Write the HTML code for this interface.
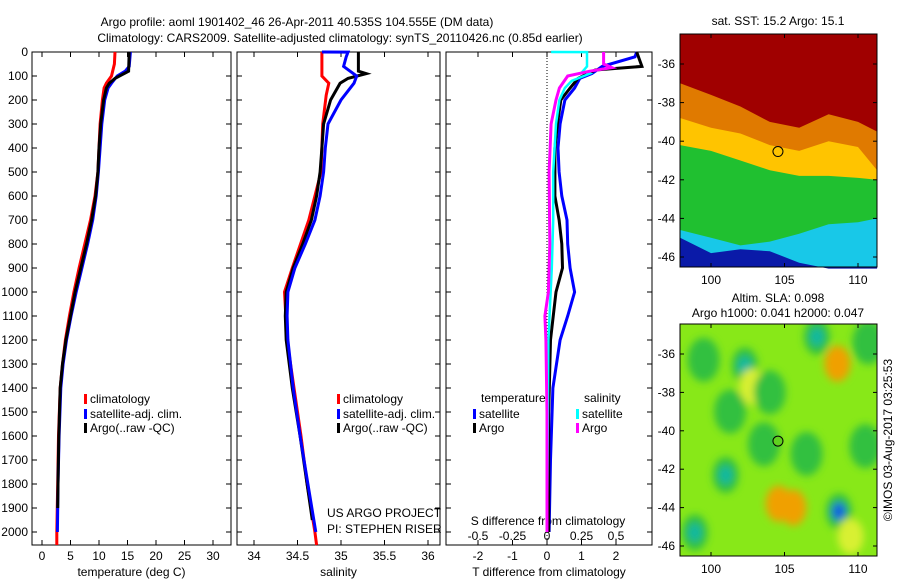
<!DOCTYPE html>
<html><head><meta charset="utf-8">
<style>
body{margin:0;background:#fff;}
svg{display:block;font-family:"Liberation Sans",Arial,sans-serif;}
text{font-size:12px;fill:#000;}
</style></head>
<body>
<svg id="fig" width="900" height="580" viewBox="0 0 900 580" xmlns="http://www.w3.org/2000/svg">
<text x="297" y="26" text-anchor="middle">Argo profile: aoml 1901402_46 26-Apr-2011 40.535S 104.555E (DM data)</text>
<text x="340" y="42" text-anchor="middle">Climatology: CARS2009. Satellite-adjusted climatology: synTS_20110426.nc (0.85d earlier)</text>
<g id="p1"></g>
<g id="p2"></g>
<g id="p3"></g>
<g id="m1"></g>
<g id="m2"></g>
<text transform="translate(892,440) rotate(-90)" text-anchor="middle">©IMOS 03-Aug-2017 03:25:53</text>
</svg>
<script>
// ---- data ----
const depthTicks=[0,100,200,300,400,500,600,700,800,900,1000,1100,1200,1300,1400,1500,1600,1700,1800,1900,2000];
const tempTicks=[0,5,10,15,20,25,30];
const salTicks=[34,34.5,35,35.5,36];
const tdiffTicks=[-2,-1,0,1,2];
const sdiffTicks=[-0.5,-0.25,0,0.25,0.5];
const sdiffLabels=["-0.5","-0.25","0","0.25","0.5"];

const tClimP=[0,50,100,130,150,200,300,400,500,600,700,800,900,1000,1100,1200,1300,1400,1600,1800,2000,2054];
const tClimV=[12.8,12.7,12.2,11.3,10.9,10.6,10.2,10.0,9.8,9.3,8.5,7.5,6.5,5.6,4.8,4.1,3.6,3.2,2.9,2.75,2.6,2.6];
const tSatP=[0,60,80,100,130,150,200,300,400,500,600,700,800,900,1000,1100,1200,1300,1400,1600,1800,2000];
const tSatV=[15.5,15.3,14.6,13.2,12.2,11.6,11.0,10.5,10.2,9.9,9.5,8.9,8.0,7.0,6.0,5.1,4.3,3.7,3.3,3.0,2.8,2.7];
const tArgP=[0,80,95,110,130,150,200,300,400,500,600,700,800,900,1000,1100,1200,1300,1400,1600,1800,1900];
const tArgV=[15.3,15.2,14.0,12.8,11.8,11.3,10.8,10.3,10.0,9.8,9.4,8.7,7.8,6.8,5.8,5.0,4.2,3.6,3.2,2.95,2.8,2.75];

const sClimP=[0,100,130,180,300,500,700,900,1000,1200,1400,1600,1800,2000,2054];
const sClimV=[34.78,34.78,34.86,34.83,34.79,34.77,34.63,34.44,34.35,34.38,34.46,34.54,34.61,34.70,34.72];
const sSatP=[0,0.5,20,60,100,130,200,300,400,500,600,700,800,900,1000,1100,1200,1400,1600,1800,2000];
const sSatV=[34.78,35.08,35.06,35.03,35.18,35.15,35.0,34.85,34.82,34.80,34.76,34.70,34.59,34.47,34.39,34.38,34.39,34.45,34.53,34.62,34.71];
const sArgP=[0,80,90,110,130,200,300,400,500,600,700,800,900,1000,1100,1200,1400,1600,1800,1950];
const sArgV=[35.20,35.20,35.29,35.08,34.99,34.88,34.80,34.78,34.76,34.72,34.66,34.56,34.45,34.37,34.36,34.37,34.44,34.53,34.61,34.67];

const dTSatP=[0,20,60,90,110,150,200,300,400,500,600,700,800,900,1000,1100,1200,1400,1700,2000];
const dTSatV=[2.6,2.55,1.6,1.3,0.95,0.8,0.52,0.38,0.32,0.35,0.43,0.58,0.6,0.67,0.8,0.6,0.38,0.17,0.1,0.06];
const dTArgP=[0,60,75,110,150,200,300,400,600,700,800,900,1000,1200,1500,2000];
const dTArgV=[2.6,2.75,1.4,0.9,0.67,0.4,0.3,0.23,0.23,0.35,0.43,0.45,0.26,0.1,0.05,0.05];
const dSSatP=[0,0.5,60,80,90,120,150,200,300,500,700,900,1200,2000];
const dSSatV=[0.03,0.29,0.29,0.26,0.31,0.18,0.13,0.09,0.065,0.045,0.045,0.035,0.01,0.0];
const dSArgP=[0,50,65,80,100,150,200,300,500,800,1000,1100,1200,1500,2000];
const dSArgV=[0.41,0.41,0.47,0.31,0.15,0.09,0.065,0.03,0.015,0.02,0.01,-0.015,-0.008,0,0];

// map boundaries (latitude of colour transitions) vs longitude
const mapLon=[97.9,100,102,104,106,108,110,111.3];
const redEdge=[-37.0,-37.6,-38.2,-39.0,-39.3,-38.6,-39.0,-39.5];
const orangeEdge=[-38.8,-39.3,-39.6,-40.2,-40.5,-40.0,-40.3,-41.5];
const yellowEdge=[-40.2,-40.5,-41.0,-41.5,-41.8,-41.8,-41.9,-42.0];
const cyanEdge=[-44.6,-45.0,-45.4,-45.2,-44.8,-44.3,-44.2,-44.0];
const blueEdge=[-45.0,-45.8,-45.6,-45.7,-46.3,-46.6,-46.6,-46.6];
// SLA blobs: lon, lat, kind
const slaLon=[107.2,102.3,99.5,103.6,101.0,108.7,98.9,108.6,104.6,105.6,102.8,110.7,110.5,104.0,101.3,106.5,109.5];
const slaLat=[-35.1,-36.6,-36.3,-40.7,-42.3,-44.2,-45.3,-36.5,-43.8,-44.0,-37.7,-35.4,-40.8,-38.0,-39.0,-41.2,-45.5];
const slaKind=["c","c","g","g","c","b","c","o","o","o","y","g","g","g","g","g","y"];

const NS="http://www.w3.org/2000/svg";
function mk(parent,tag,attrs){const e=document.createElementNS(NS,tag);for(const k in attrs)e.setAttribute(k,attrs[k]);parent.appendChild(e);return e;}
const Y0=52,Y1=545,yD=d=>Y0+d*0.24;

function panel(g,x0,x1,xs,ticks,labels,ytickLabels,xlabel){
  mk(g,'rect',{x:x0,y:Y0,width:x1-x0,height:Y1-Y0,fill:'none',stroke:'#000','stroke-width':1});
  depthTicks.forEach(d=>{const y=yD(d);
    const t1=mk(g,'line',{x1:x0,x2:x0+5,y1:y,y2:y,stroke:'#000'});
    
    mk(g,'line',{x1:x1,x2:x1-5,y1:y,y2:y,stroke:'#000'});
    if(ytickLabels){const t=mk(g,'text',{x:x0-4,y:y+4,'text-anchor':'end'});t.textContent=d;
      }
  });
  ticks.forEach((v,i)=>{const x=xs(v);
    mk(g,'line',{x1:x,x2:x,y1:Y1,y2:Y1-5,stroke:'#000'});
    mk(g,'line',{x1:x,x2:x,y1:Y0,y2:Y0+5,stroke:'#000'});
    const t=mk(g,'text',{x:x,y:560,'text-anchor':'middle'});t.textContent=labels?labels[i]:v;
    
  });
  const xl=mk(g,'text',{x:(x0+x1)/2,y:576,'text-anchor':'middle'});xl.textContent=xlabel;
  
}
function line(g,P,V,xs,color,w,name){
  const pts=P.map((p,i)=>xs(V[i]).toFixed(1)+','+yD(p).toFixed(1)).join(' ');
  const l=mk(g,'polyline',{points:pts,fill:'none',stroke:color,'stroke-width':w,'stroke-linejoin':'miter'});
  
  
}
function legend(g,x,y,color,label){
  mk(g,'rect',{x:x,y:y-9,width:3,height:10,fill:color});
  const t=mk(g,'text',{x:x+6,y:y});t.textContent=label;
  
  
}

// panel 1
const p1=document.getElementById('p1');
const xT=v=>42+5.7*v;
panel(p1,32,231,xT,tempTicks,null,true,'temperature (deg C)');
line(p1,tClimP,tClimV,xT,'#f00',3,'climatology-temperature-line');
line(p1,tSatP,tSatV,xT,'#00f',3,'satellite-temperature-line');
line(p1,tArgP,tArgV,xT,'#000',3,'argo-temperature-line');
legend(p1,84,403,'#f00','climatology');legend(p1,84,418,'#00f','satellite-adj. clim.');legend(p1,84,432,'#000','Argo(..raw -QC)');

// panel 2
const p2=document.getElementById('p2');
const xS=v=>254+87*(v-34);
panel(p2,237,440,xS,salTicks,null,false,'salinity');
line(p2,sClimP,sClimV,xS,'#f00',3,'climatology-salinity-line');
line(p2,sArgP,sArgV,xS,'#000',3,'argo-salinity-line');
line(p2,sSatP,sSatV,xS,'#00f',3,'satellite-salinity-line');
legend(p2,337,403,'#f00','climatology');legend(p2,337,418,'#00f','satellite-adj. clim.');legend(p2,337,432,'#000','Argo(..raw -QC)');
let t=mk(p2,'text',{x:327,y:517});t.textContent='US ARGO PROJECT';
t=mk(p2,'text',{x:327,y:533});t.textContent='PI: STEPHEN RISER';

// panel 3
const p3=document.getElementById('p3');
const xTD=v=>547+34.5*v, xSD=v=>547+138*v;
panel(p3,446,652,xTD,tdiffTicks,null,false,'T difference from climatology');
mk(p3,'line',{x1:547,x2:547,y1:Y0,y2:Y1,stroke:'#000','stroke-dasharray':'1,2'});
sdiffTicks.forEach((v,i)=>{t=mk(p3,'text',{x:xSD(v),y:540,'text-anchor':'middle'});t.textContent=sdiffLabels[i];});
t=mk(p3,'text',{x:548,y:525,'text-anchor':'middle'});t.textContent='S difference from climatology';
line(p3,dTSatP,dTSatV,xTD,'#00f',3,'satellite-t-diff-line');
line(p3,dTArgP,dTArgV,xTD,'#000',3,'argo-t-diff-line');
line(p3,dSSatP,dSSatV,xSD,'#0ff',2.5,'satellite-s-diff-line');
line(p3,dSArgP,dSArgV,xSD,'#f0f',3,'argo-s-diff-line');
t=mk(p3,'text',{x:481,y:402});t.textContent='temperature';
t=mk(p3,'text',{x:584,y:402});t.textContent='salinity';
legend(p3,473,418,'#00f','satellite');legend(p3,473,432,'#000','Argo');
legend(p3,576,418,'#0ff','satellite');legend(p3,576,432,'#f0f','Argo');

// maps
function mapFrame(g,x0,y0,x1,y1,yLat,latTicks){
  mk(g,'rect',{x:x0,y:y0,width:x1-x0,height:y1-y0,fill:'none',stroke:'#000'});
  [100,105,110].forEach(l=>{const x=711+(l-100)*14.7;
    mk(g,'line',{x1:x,x2:x,y1:y1,y2:y1-4,stroke:'#000'});mk(g,'line',{x1:x,x2:x,y1:y0,y2:y0+4,stroke:'#000'});
    const tt=mk(g,'text',{x:x,y:y1+17,'text-anchor':'middle'});tt.textContent=l;});
  latTicks.forEach(l=>{const y=yLat(l);
    mk(g,'line',{x1:x0,x2:x0+4,y1:y,y2:y,stroke:'#000'});mk(g,'line',{x1:x1,x2:x1-4,y1:y,y2:y,stroke:'#000'});
    const tt=mk(g,'text',{x:x0-5,y:y+4,'text-anchor':'end'});tt.textContent=l;});
}
const lonX=l=>711+(l-100)*14.7;
const latTicks=[-36,-38,-40,-42,-44,-46];
// SST map
const m1=document.getElementById('m1');
const lat1=l=>64+(-36-l)*19.3;
mk(m1,'rect',{x:680,y:34,width:197,height:233,fill:'#a00000'});
function band(g,edge,color,name){
  let pts=mapLon.map((l,i)=>lonX(l).toFixed(1)+','+lat1(edge[i]).toFixed(1));
  pts.push('877,267','680,267');
  const p=mk(g,'polygon',{points:pts.join(' '),fill:color});
  
  
}
band(m1,redEdge,'#e07a00','sst-orange-region');
band(m1,orangeEdge,'#ffc400','sst-yellow-region');
band(m1,yellowEdge,'#20c030','sst-green-region');
band(m1,cyanEdge,'#18c8e8','sst-cyan-region');
band(m1,blueEdge,'#0a1aa8','sst-blue-region');
mk(m1,'circle',{cx:lonX(104.555),cy:lat1(-40.535),r:5,fill:'none',stroke:'#000'});
mapFrame(m1,680,34,877,267,lat1,latTicks);
t=mk(m1,'text',{x:778,y:25,'text-anchor':'middle'});t.textContent='sat. SST: 15.2 Argo: 15.1';

// SLA map
const m2=document.getElementById('m2');
const lat2=l=>354+(-36-l)*19.2;
const defs=mk(m2,'defs',{});
const f=mk(defs,'filter',{id:'bl',x:'-50%',y:'-50%',width:'200%',height:'200%'});mk(f,'feGaussianBlur',{stdDeviation:4});
const cp=mk(defs,'clipPath',{id:'cl'});mk(cp,'rect',{x:680,y:324,width:197,height:232});
mk(m2,'rect',{x:680,y:324,width:197,height:232,fill:'#88e818'});
const gb=mk(m2,'g',{'clip-path':'url(#cl)',filter:'url(#bl)'});
const kindCol={c:'#10b8a0',g:'#30c040',b:'#1060e0',o:'#f0a000',y:'#d8f030'};
slaLon.forEach((l,i)=>{
  const k=slaKind[i];
  const e=mk(gb,'ellipse',{cx:lonX(l),cy:lat2(slaLat[i]),rx:k==='g'?16:13,ry:k==='g'?22:18,fill:k==='c'||k==='b'?'#30c040':kindCol[k]});
  
  
  if(k==='c'||k==='b'){mk(gb,'ellipse',{cx:lonX(l),cy:lat2(slaLat[i]),rx:7,ry:9,fill:kindCol[k]});}
});
mk(m2,'circle',{cx:lonX(104.555),cy:lat2(-40.535),r:5,fill:'#60d020',stroke:'#000'});
mapFrame(m2,680,324,877,556,lat2,latTicks);
t=mk(m2,'text',{x:778,y:302,'text-anchor':'middle'});t.textContent='Altim. SLA: 0.098';
t=mk(m2,'text',{x:778,y:317,'text-anchor':'middle'});t.textContent='Argo h1000: 0.041 h2000: 0.047';
</script>
</body></html>
